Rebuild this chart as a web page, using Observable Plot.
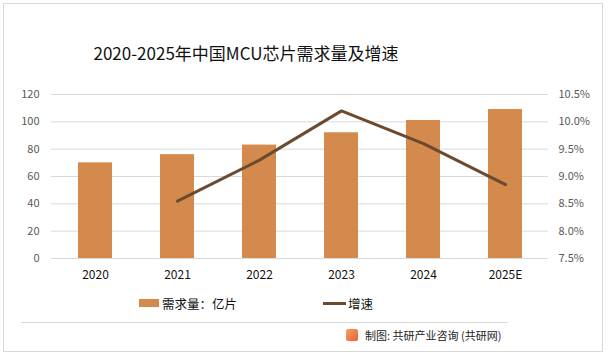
<!DOCTYPE html>
<html><head><meta charset="utf-8">
<script src="https://cdn.jsdelivr.net/npm/d3@7"></script>
<script src="https://cdn.jsdelivr.net/npm/@observablehq/plot@0.6"></script>
<style>
body{margin:0;background:#fff;font-family:"Noto Sans CJK SC","Noto Sans",sans-serif;}
#wrap{position:relative;width:609px;height:360px;overflow:hidden;background:#fff;}
#frame{position:absolute;left:3px;top:3px;width:600px;height:349px;border:1px solid #d9d9d9;box-sizing:border-box;}
#title{position:absolute;left:0;width:492px;top:40px;text-align:center;font-size:17px;color:#111;line-height:26px;}
#chart{position:absolute;left:0;top:80px;}
.leg{position:absolute;font-size:12.5px;color:#111;line-height:18px;white-space:nowrap;}
#sep{position:absolute;left:21px;top:322px;width:487px;height:1px;background:#d9d9d9;}
#src{position:absolute;left:365px;top:327px;font-size:11px;color:#222;line-height:16px;white-space:nowrap;}
#logo{position:absolute;left:346px;top:329px;width:12px;height:12px;border-radius:2px;background:linear-gradient(135deg,#f6a05a,#e8603c);}
</style></head>
<body>
<div id="wrap">
<div id="frame"></div>
<div id="title">2020-2025年中国MCU芯片需求量及增速</div>
<div id="chart"></div>
<div class="leg" style="left:139px;top:299px;width:20px;height:8px;background:#D48A4C;"></div>
<div class="leg" style="left:162px;top:295px;">需求量：亿片</div>
<div class="leg" style="left:323px;top:302px;width:23px;height:3px;background:#6B4A30;"></div>
<div class="leg" style="left:348px;top:295px;">增速</div>
<div id="sep"></div>
<div id="logo"></div>
<div id="src">制图: 共研产业咨询 (共研网)</div>
</div>
<script>
const years = ["2020","2021","2022","2023","2024","2025E"];
const demand = [70, 76, 83, 92, 101, 109];
const growthYears = ["2021","2022","2023","2024","2025E"];
const growth = [8.55, 9.3, 10.2, 9.6, 8.85];
const leftTicks = [0,20,40,60,80,100,120];
const rightTickLabels = ["7.5%","8.0%","8.5%","9.0%","9.5%","10.0%","10.5%"];

const barData = years.map((y,i)=>({year:y, value:demand[i]}));
// map growth (7.5%..10.5%) onto the shared 0..120 scale
const toLeft = p => (p - 7.5) / 3 * 120;
const lineData = growthYears.map((y,i)=>({year:y, g:growth[i]}));

const chart = Plot.plot({
  width: 609,
  height: 210,
  marginTop: 14,
  marginBottom: 32,
  marginLeft: 51,
  marginRight: 61,
  style: {fontFamily: '"Noto Sans CJK SC","Noto Sans",sans-serif', background: "transparent"},
  x: {type: "band", domain: years, paddingInner: 0.59, paddingOuter: 0.29},
  y: {domain: [0, 120]},
  marks: [
    Plot.gridY(leftTicks, {stroke: "#d9d9d9", strokeOpacity: 1}),
    Plot.barY(barData, {x: "year", y: "value", fill: "#D48A4C"}),
    Plot.line(lineData, {x: "year", y: d => toLeft(d.g), stroke: "#6B4A30", strokeWidth: 3}),
    Plot.axisY(leftTicks, {anchor: "left", tickSize: 0, tickPadding: 12, fontSize: 11, fill: "#595959", label: null}),
    Plot.axisY(leftTicks, {anchor: "right", tickSize: 0, tickPadding: 10, fontSize: 11, fill: "#595959", label: null,
      tickFormat: (d) => rightTickLabels[leftTicks.indexOf(d)]}),
    Plot.axisX({tickSize: 0, tickPadding: 12, fontSize: 12, fill: "#111", label: null})
  ]
});
document.getElementById("chart").appendChild(chart);
</script>
</body></html>
